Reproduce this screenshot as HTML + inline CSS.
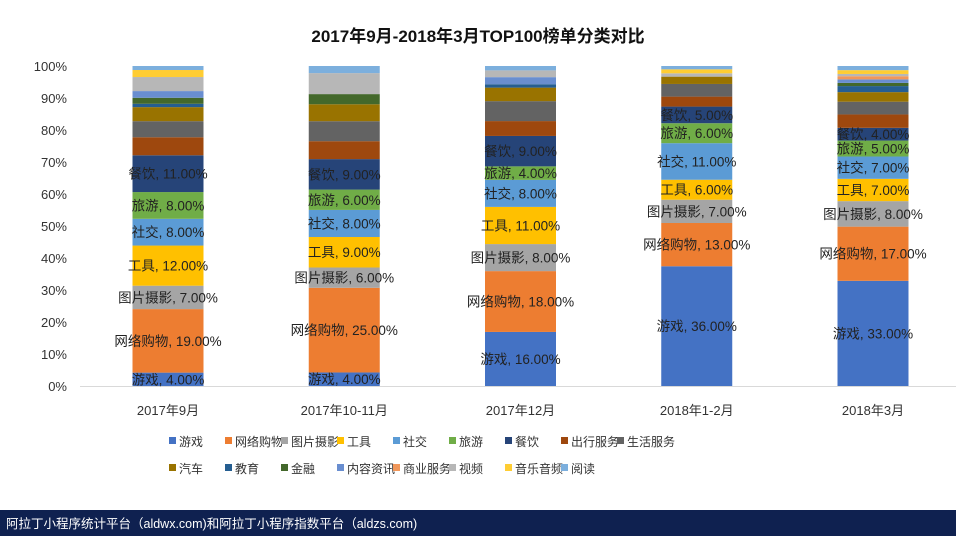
<!DOCTYPE html>
<html><head><meta charset="utf-8"><style>
body{margin:0;width:956px;height:536px;background:#fff;overflow:hidden;font-family:"Liberation Sans","Noto Sans CJK SC",sans-serif}
</style></head><body>
<svg width="956" height="536" id="chart" style="position:absolute;left:0;top:0"></svg>
<script>
const categories=["2017年9月","2017年10-11月","2017年12月","2018年1-2月","2018年3月"];
const seriesNames=["游戏","网络购物","图片摄影","工具","社交","旅游","餐饮","出行服务","生活服务","汽车","教育","金融","内容资讯","商业服务","视频","音乐音频","阅读"];
const colors=["#4472C4","#ED7D31","#A5A5A5","#FFC000","#5B9BD5","#70AD47","#264478","#9E480E","#636363","#997300","#255E91","#43682B","#698ED0","#F1975A","#B7B7B7","#FFCD33","#7CAFDD"];
const s_youxi=[4,4,16,36,33];
const s_gouwu=[19,25,18,13,17];
const s_tupian=[7,6,8,7,8];
const s_gongju=[12,9,11,6,7];
const s_shejiao=[8,8,8,11,7];
const s_lvyou=[8,6,4,6,5];
const s_canyin=[11,9,9,5,4];
const s_chuxing=[5.4,5.3,4.4,3,4.2];
const s_shenghuo=[4.8,5.9,5.9,3.8,4];
const s_qiche=[4.2,5,4,2.2,3];
const s_jiaoyu=[1,0,1,0,1.9];
const s_jinrong=[1.8,3,0,0,1];
const s_neirong=[2,0,2.1,0,1.1];
const s_shangye=[0,0,0,0,1];
const s_shipin=[4.2,6.2,2,1,0.7];
const s_yinyue=[2.1,0,0,1.2,1.2];
const s_yuedu=[1.2,2.1,1.3,1,1.3];
const series=[s_youxi,s_gouwu,s_tupian,s_gongju,s_shejiao,s_lvyou,s_canyin,s_chuxing,s_shenghuo,s_qiche,s_jiaoyu,s_jinrong,s_neirong,s_shangye,s_shipin,s_yinyue,s_yuedu];
const labeled=7;
const yTicks=[0,10,20,30,40,50,60,70,80,90,100];

const svg=document.getElementById('chart');
const NS='http://www.w3.org/2000/svg';
function mk(t,a,txt){const e=document.createElementNS(NS,t);for(const k in a)e.setAttribute(k,a[k]);if(txt!=null)e.textContent=txt;svg.appendChild(e);return e;}
const y0=386,y1=66;
function y(v){return y0-(v/100)*(y0-y1);}
function x(i){return 168+i*176.25;}
const bw=71;

let t=mk('text',{x:478,y:42,'text-anchor':'middle','font-size':'17','font-weight':'bold',fill:'#111'},'2017年9月-2018年3月TOP100榜单分类对比');



yTicks.forEach(v=>{
 const e=mk('text',{x:67,y:y(v)+5,'text-anchor':'end','font-size':'13',fill:'#333'},v+'%');
 
 
});
const ax=mk('line',{x1:80,x2:958,y1:y0+0.5,y2:y0+0.5,stroke:'#d9d9d9'});



categories.forEach((c,i)=>{
 let total=0;
 series.forEach(s=>{total+=s[i];});
 const p=v=>v/total*100;
 let acc=0;
 series.forEach((s,k)=>{
  const v=s[i];
  if(v<=0)return;
  const r=mk('rect',{x:x(i)-bw/2,y:y(p(acc+v)),width:bw,height:y(p(acc))-y(p(acc+v)),fill:colors[k]});
  
  
  acc+=v;
 });
 acc=0;
 series.forEach((s,k)=>{
  const v=s[i];
  if(k<labeled){
   const l=mk('text',{x:x(i),y:y(p(acc+v/2))+5,'text-anchor':'middle','font-size':'13.5',fill:'#222'},seriesNames[k]+', '+v.toFixed(2)+'%');
   
   
  }
  acc+=v;
 });
 const cl=mk('text',{x:x(i),y:415,'text-anchor':'middle','font-size':'13',fill:'#333'},c);
 
 
});

seriesNames.forEach((n,k)=>{
 const row=k<9?0:1, col=k<9?k:k-9;
 const lx=173+col*56, ly=row?468:441;
 const sq=mk('rect',{x:lx-4,y:ly-4,width:7,height:7,fill:colors[k]});
 
 
 const lt=mk('text',{x:lx+6,y:ly+5,'font-size':'12',fill:'#333'},n);
 
 
});

const fb=mk('rect',{x:0,y:510,width:956,height:26,fill:'#0f2150'});


const ft=mk('text',{x:6,y:528,'font-size':'12.5',fill:'#fff'},'阿拉丁小程序统计平台（aldwx.com)和阿拉丁小程序指数平台（aldzs.com)');


</script>
</body></html>
